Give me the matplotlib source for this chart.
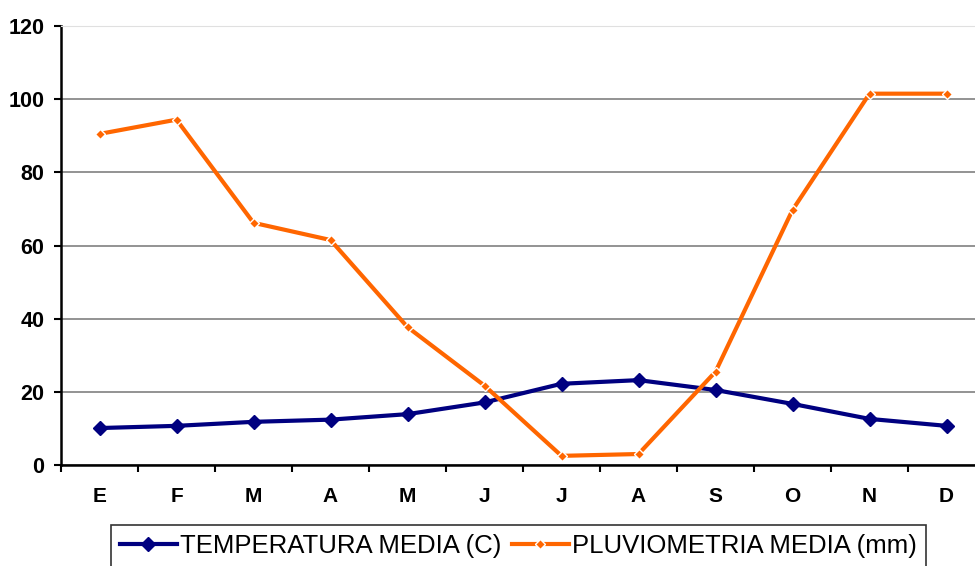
import matplotlib.pyplot as plt
import numpy as np

meses = ['E', 'F', 'M', 'A', 'M', 'J', 'J', 'A', 'S', 'O', 'N', 'D']
temperatura = [10.1, 10.7, 11.8, 12.4, 13.9, 17.1, 22.2, 23.2, 20.5, 16.7, 12.6, 10.7]
pluviometria = [90.5, 94.4, 66.2, 61.5, 37.7, 21.7, 2.5, 3.0, 25.5, 69.7, 101.5, 101.5]

plt.rcParams['font.family'] = ['Liberation Sans', 'DejaVu Sans']

fig = plt.figure(figsize=(9.75, 5.66), dpi=100)
ax = fig.add_axes([61 / 975, 101 / 566, 924 / 975, 439 / 566])

x = np.arange(len(meses))
ax.plot(x, temperatura, color='#000080', linewidth=3, marker='D', markersize=7,
        label='TEMPERATURA MEDIA (C)', zorder=3)
ax.plot(x, pluviometria, color='#FF6600', linewidth=3, marker='D', markersize=5,
        markeredgecolor='white', markeredgewidth=1, label='PLUVIOMETRIA MEDIA (mm)', zorder=4)

ax.set_xlim(-0.5, len(meses) - 0.5)
ax.set_ylim(0, 120)
ax.set_yticks(np.arange(0, 121, 20))
ax.set_xticks(x)
ax.set_xticklabels(meses, fontweight='bold')
ax.set_xticks(np.arange(-0.5, len(meses)), minor=True)
ax.tick_params(axis='x', which='major', length=0, pad=16, labelsize=15)
ax.tick_params(axis='x', which='minor', length=5, width=1.5, direction='out')
ax.tick_params(axis='y', length=5, width=1.5, direction='out', pad=7, labelsize=15.5)
for lbl in ax.get_yticklabels():
    lbl.set_fontweight('bold')

ax.grid(axis='y', color='#808080', linewidth=1.2)
ax.set_axisbelow(True)
ax.spines['left'].set_linewidth(1.8)
ax.spines['bottom'].set_linewidth(1.8)
ax.spines['right'].set_visible(False)
ax.spines['top'].set_color('#e0e0e0')

leg = fig.legend(loc='lower left', bbox_to_anchor=(111 / 975, -1 / 566), ncol=2,
                 fontsize=18.5, frameon=True, fancybox=False, handlelength=2.2,
                 handletextpad=0.15, columnspacing=0.4, borderpad=0.35, borderaxespad=0)
leg.get_frame().set_edgecolor('black')
leg.get_frame().set_linewidth(1.2)

plt.savefig('out.png', dpi=100)
